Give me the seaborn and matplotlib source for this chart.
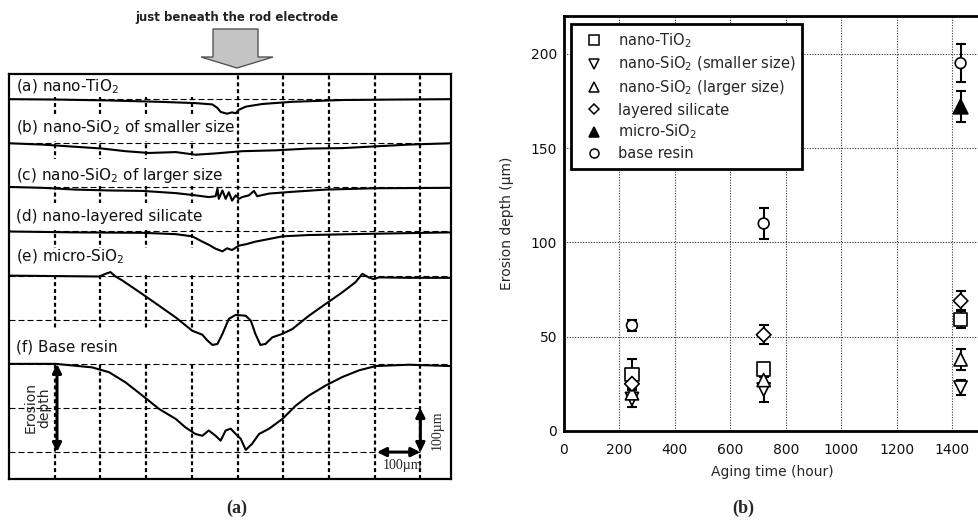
import pandas as pd
import seaborn as sns
import matplotlib.pyplot as plt
from matplotlib.lines import Line2D
from matplotlib.patches import Polygon, Rectangle

# (a) surface profiles: position along the sample (um) and depth below surface (um)
pos_a = [0, 109, 219, 328, 408, 445, 456, 463, 477, 488, 496, 503, 518, 554, 620, 729, 838, 967]
dep_a = [0, 1, 3, 6, 9, 12, 20, 29, 33, 30, 32, 24, 17, 11, 6, 2, 1, 0]
pos_b = [0, 73, 146, 204, 255, 306, 365, 408, 452, 510, 583, 656, 729, 802, 875, 967]
dep_b = [0, 3, 8, 12, 18, 22, 20, 26, 23, 18, 16, 12, 11, 7, 3, 0]
pos_c = [0, 73, 146, 219, 292, 365, 408, 437, 452, 456, 459, 467, 474, 481, 488, 496, 503,
         510, 525, 536, 543, 569, 620, 693, 802, 967]
dep_c = [-1, 1, 5, 7, 8, 13, 18, 22, 20, 3, 26, 7, 26, 11, 30, 18, 26, 22, 18, 8, 20, 14,
         10, 5, 2, 1]
pos_d = [0, 146, 292, 365, 401, 423, 437, 452, 467, 477, 488, 503, 518, 539, 569, 598, 656, 802, 967]
dep_d = [0, 2, 3, 6, 11, 23, 30, 39, 45, 38, 42, 32, 29, 23, 17, 11, 8, 5, 2]
pos_e = [0, 197, 211, 222, 233, 248, 292, 328, 365, 401, 423, 434, 445, 456, 467, 481, 496,
         518, 529, 539, 550, 561, 576, 598, 620, 656, 693, 729, 758, 773, 787, 798, 809, 875, 967]
dep_e = [0, 2, -4, -8, 2, 11, 42, 68, 95, 125, 134, 147, 157, 155, 132, 98, 89, 91, 102, 132,
         157, 155, 140, 132, 121, 91, 64, 38, 15, -4, 4, 8, 4, 5, 5]
pos_f = [0, 102, 182, 219, 255, 292, 328, 365, 386, 408, 423, 437, 452, 463, 474, 485, 496,
         507, 518, 532, 547, 569, 598, 627, 656, 693, 729, 765, 802, 875, 967]
dep_f = [0, 0, 8, 19, 42, 72, 102, 125, 144, 159, 163, 151, 163, 174, 151, 147, 159, 170,
         195, 181, 159, 147, 125, 95, 72, 49, 30, 15, 5, 2, 5]
profile_labels = ["(a) nano-TiO$_2$", "(b) nano-SiO$_2$ of smaller size",
                  "(c) nano-SiO$_2$ of larger size", "(d) nano-layered silicate",
                  "(e) micro-SiO$_2$", "(f) Base resin"]

# (b) erosion depth vs aging time
aging_hours = [245, 720, 1430]
materials = ["nano-TiO$_2$", "nano-SiO$_2$ (smaller size)", "nano-SiO$_2$ (larger size)",
             "layered silicate", "micro-SiO$_2$", "base resin"]
depth_tio2 = [30, 33, 59]
err_tio2 = [8, 3, 4.5]
depth_sio2_small = [17, 22, 23]
err_sio2_small = [4.5, 6.5, 4]
depth_sio2_large = [20, 27, 38]
err_sio2_large = [3, 3, 5.5]
depth_layered = [25, 51, 69]
err_layered = [3, 5, 5]
depth_micro = [None, None, 172]
err_micro = [None, None, 8]
depth_base = [56, 110, 195]
err_base = [3, 8, 10]

sns.set_theme(style="white")
plt.rcParams["font.family"] = ["DejaVu Sans"]
plt.rcParams["mathtext.default"] = "regular"

fig = plt.figure(figsize=(9.79, 5.21), dpi=100)

# ---------------- left panel ----------------
axl = fig.add_axes([9 / 979, 1 - 479 / 521, 442 / 979, 405 / 521])
offsets = [800, 700, 600, 500, 400, 200]
label_y = [828, 735, 628, 535, 442, 238]
# white strips where the label of each profile sits (grid hidden there)
label_bands = [(804, 857), (704, 765), (604, 665), (504, 565), (404, 463), (205, 277)]
profiles = [(pos_a, dep_a), (pos_b, dep_b), (pos_c, dep_c), (pos_d, dep_d), (pos_e, dep_e), (pos_f, dep_f)]

rows = []
for lab, off, (p, d) in zip(profile_labels, offsets, profiles):
    for xi, di in zip(p, d):
        rows.append({"sample": lab, "pos": xi, "height": off - di})
prof = pd.DataFrame(rows)

for yy in range(0, 900, 100):
    xmax = 900 if yy <= 100 else 967
    axl.plot([0, xmax], [yy, yy], color="black", lw=0.8, ls=(0, (5.4, 2.7)), zorder=1)
for xx in range(100, 1000, 100):
    axl.axvline(xx, color="black", lw=1.6, ls=(0, (1.8, 1.3)), zorder=1)
for y0, y1 in label_bands:
    axl.add_patch(Rectangle((0, y0), 450, y1 - y0, facecolor="white", edgecolor="none", zorder=1.5))

sns.lineplot(data=prof, x="pos", y="height", units="sample", estimator=None, sort=False,
             color="black", lw=1.5, ax=axl, zorder=3)

for lab, ly in zip(profile_labels, label_y):
    axl.text(15, ly, lab, fontsize=11, va="center", ha="left", color="#111", zorder=4)

arrow_kw = dict(arrowstyle="<|-|>", lw=2.2, color="black", mutation_scale=13,
                shrinkA=0, shrinkB=0)
axl.annotate("", xy=(105, 0), xytext=(105, 200), arrowprops=arrow_kw, zorder=4)
axl.text(62, 100, "Erosion\ndepth", rotation=90, fontsize=10, ha="center", va="center",
         linespacing=0.95)
axl.annotate("", xy=(900, 0), xytext=(900, 100), arrowprops=arrow_kw, zorder=4)
axl.annotate("", xy=(805, 0), xytext=(900, 0), arrowprops=arrow_kw, zorder=4)
axl.text(936, 50, "100\u00b5m", rotation=90, fontsize=10, family="Liberation Serif",
         ha="center", va="center")
axl.text(860, -30, "100\u00b5m", fontsize=10, family="Liberation Serif", ha="center", va="center")

axl.set_xlim(0, 967)
axl.set_ylim(-61, 857)
axl.set_xticks([])
axl.set_yticks([])
axl.set_xlabel("")
axl.set_ylabel("")
for s in axl.spines.values():
    s.set_visible(True)
    s.set_color("black")
    s.set_linewidth(1.6)
    s.set_zorder(5)

fig.text(237 / 979, 1 - 17 / 521, "just beneath the rod electrode", fontsize=8.5,
         fontweight="bold", ha="center", va="center", color="#222")
arrow_px = [(213, 29), (258, 29), (258, 57), (273, 57), (237, 68), (201, 57), (213, 57)]
fig.patches.append(Polygon([(x / 979, 1 - y / 521) for x, y in arrow_px], closed=True,
                           facecolor="#c4c4c4", edgecolor="#555555", lw=1,
                           transform=fig.transFigure))

# ---------------- right panel ----------------
axr = fig.add_axes([564 / 979, 1 - 431 / 521, 416 / 979, 415 / 521])

marker_map = dict(zip(materials, ["s", "v", "^", "D", "^", "o"]))
face_map = dict(zip(materials, ["white", "white", "white", "white", "black", "white"]))
size_map = dict(zip(materials, [95, 90, 90, 55, 110, 60]))
legend_ms = dict(zip(materials, [6.5, 7, 7, 5, 7.5, 6.5]))
series = [(depth_tio2, err_tio2), (depth_sio2_small, err_sio2_small),
          (depth_sio2_large, err_sio2_large), (depth_layered, err_layered),
          (depth_micro, err_micro), (depth_base, err_base)]

pts = []
for m, (dv, ev) in zip(materials, series):
    for h, d, e in zip(aging_hours, dv, ev):
        if d is not None:
            pts.append({"material": m, "hours": h, "depth": d, "err": e})
pts = pd.DataFrame(pts)

for m in materials:
    sub = pts[pts["material"] == m]
    axr.errorbar(sub["hours"], sub["depth"], yerr=sub["err"], fmt="none", ecolor="black",
                 elinewidth=1.5, capsize=3.6, capthick=1.5, zorder=2)

sns.scatterplot(data=pts, x="hours", y="depth", hue="material", style="material",
                size="material", markers=marker_map, palette=face_map, sizes=size_map,
                edgecolor="black", linewidth=1.2, legend=False, ax=axr, zorder=3)

axr.set_xlim(0, 1500)
axr.set_ylim(0, 220)
axr.set_xticks(range(0, 1401, 200))
axr.set_yticks(range(0, 201, 50))
axr.grid(True, color="#333333", lw=0.8, ls=(0, (1, 1.4)))
axr.tick_params(axis="both", length=0, labelsize=10, colors="#111")
axr.tick_params(axis="x", pad=8.5)
axr.tick_params(axis="y", pad=5)
axr.set_xlabel("Aging time (hour)", fontsize=10, labelpad=6)
axr.set_ylabel("Erosion depth (\u00b5m)", fontsize=10, labelpad=12)
for side in ["left", "bottom", "top"]:
    axr.spines[side].set_visible(True)
    axr.spines[side].set_color("black")
    axr.spines[side].set_linewidth(2)
axr.spines["right"].set_visible(False)

handles = [Line2D([], [], ls="none", marker=marker_map[m], mfc=face_map[m], mec="black",
                  mew=1.1, ms=legend_ms[m]) for m in materials]
leg = axr.legend(handles, materials, loc="upper left", bbox_to_anchor=(0.017, 0.981),
                 borderaxespad=0, fontsize=10.5, frameon=True, fancybox=False,
                 edgecolor="black", framealpha=1, handlelength=2.2, handletextpad=0.5,
                 labelspacing=0.35, borderpad=0.5)
leg.get_frame().set_linewidth(2)

fig.text(237 / 979, 1 - 508 / 521, "(a)", fontsize=13, fontweight="bold",
         family="Liberation Serif", ha="center", va="center")
fig.text(743 / 979, 1 - 508 / 521, "(b)", fontsize=13, fontweight="bold",
         family="Liberation Serif", ha="center", va="center")

fig.savefig("out.png", dpi=100)
